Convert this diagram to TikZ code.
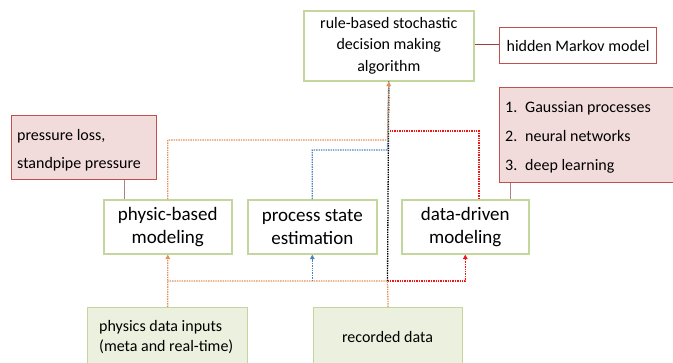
\documentclass[tikz,border=0pt]{standalone}
\usepackage{fontspec}
\setmainfont{Carlito}
\usetikzlibrary{arrows.meta,calc}
\definecolor{gborder}{RGB}{195,214,155}
\definecolor{gfill}{RGB}{235,241,222}
\definecolor{pfill}{RGB}{242,220,219}
\definecolor{pborder}{RGB}{192,80,77}
\definecolor{oline}{RGB}{222,145,88}
\definecolor{bline}{RGB}{79,129,189}
\definecolor{rline}{RGB}{240,20,20}
\definecolor{cline}{RGB}{175,130,130}
\tikzset{
  mainbox/.style={draw=gborder, line width=1.6pt, fill=white, align=center, inner sep=0pt, anchor=north west},
  inbox/.style={draw=gborder, line width=1.2pt, fill=gfill, inner sep=0pt, anchor=north west},
  notebox/.style={draw=pborder, line width=1.2pt, fill=pfill, inner sep=0pt, anchor=north west},
  hmmbox/.style={draw=pborder, line width=1.2pt, fill=white, inner sep=0pt, anchor=north west},
  notetext/.style={anchor=base west, inner sep=0pt, font=\fontsize{16}{19}\selectfont},
  bigtext/.style={font=\fontsize{19}{23}\selectfont},
  dline/.style={line width=1.3pt, dash pattern=on 1.4pt off 1pt},
  tip/.style={-{Triangle[length=4.5pt,width=4.5pt]}},
}
\begin{document}
\begin{tikzpicture}[x=1pt,y=-1pt]
\useasboundingbox (0,0) rectangle (673,362);
% boxes
\node[mainbox, minimum width=170pt, minimum height=70pt, font=\fontsize{16}{21.5}\selectfont] (top) at (303,10)
  {rule-based stochastic\\decision making\\algorithm};
\node[hmmbox, minimum width=157pt, minimum height=36pt, font=\fontsize{16}{19}\selectfont] (hmm) at (499,27) {hidden Markov model};
\node[notebox, minimum width=145pt, minimum height=64pt] (press) at (11,115) {};
\node[notetext] (pl) at (17,140) {pressure loss,};
\node[notetext] (sp) at (17,168) {standpipe pressure};
\node[notebox, minimum width=175pt, minimum height=95pt] (gauss) at (499,87) {};
\node[notetext] (g1) at (505,112) {\makebox[20pt][l]{1.}Gaussian processes};
\node[notetext] (g2) at (505,141) {\makebox[20pt][l]{2.}neural networks};
\node[notetext] (g3) at (505,170) {\makebox[20pt][l]{3.}deep learning};
\node[mainbox, bigtext, minimum width=128pt, minimum height=54pt] (phys) at (103,199)
  {physic-based\\modeling};
\node[mainbox, bigtext, minimum width=129pt, minimum height=54pt] (proc) at (247,199)
  {process state\\estimation};
\node[mainbox, bigtext, minimum width=127pt, minimum height=54pt] (data) at (401,199)
  {data-driven\\modeling};
\node[inbox, minimum width=160pt, minimum height=60pt] (inp) at (87,307) {};
\node[anchor=west, align=left, inner sep=0pt, font=\fontsize{16}{20}\selectfont] (inpt) at (99,337) {physics data inputs\\(meta and real-time)};
\node[inbox, minimum width=149pt, minimum height=60pt] (rec) at (313,307) {};
\node[inner sep=0pt, font=\fontsize{16}{20}\selectfont] (rect) at (387.5,337) {recorded data};
% solid connectors
\draw[cline, line width=1pt] (press.south -| 124,0) -- (phys.north -| 124,0);
\draw[cline, line width=1pt] (gauss.south -| 510,0) -- (data.north -| 510,0);
\draw[pborder!80!black, line width=0.8pt] (top.east |- 0,44) -- (hmm.west |- 0,44);
% junction
\coordinate (j) at (387.5,281);
\coordinate (jo) at (387.5,140);
\coordinate (jb) at (387.5,150);
\coordinate (jr) at (389.5,131);
% dotted connectors
\draw[dline, black] (j) -- (top.south);
\draw[dline, bline] (proc.north) |- (jb) -- (top.south);
\draw[dline, rline] (data.north -| 479,0) |- (jr);
\draw[dline, oline, tip] (phys.north) |- (jo) -- (top.south);
\draw[dline, oline] (rec.north) -- (j) -- (j -| inp.north);
\draw[dline, oline, tip] (inp.north) -- (phys.south);
\draw[dline, bline, tip] (j -| proc.south) -- (proc.south);
\draw[dline, rline, tip] (j) -| (data.south);
\end{tikzpicture}
\end{document}
